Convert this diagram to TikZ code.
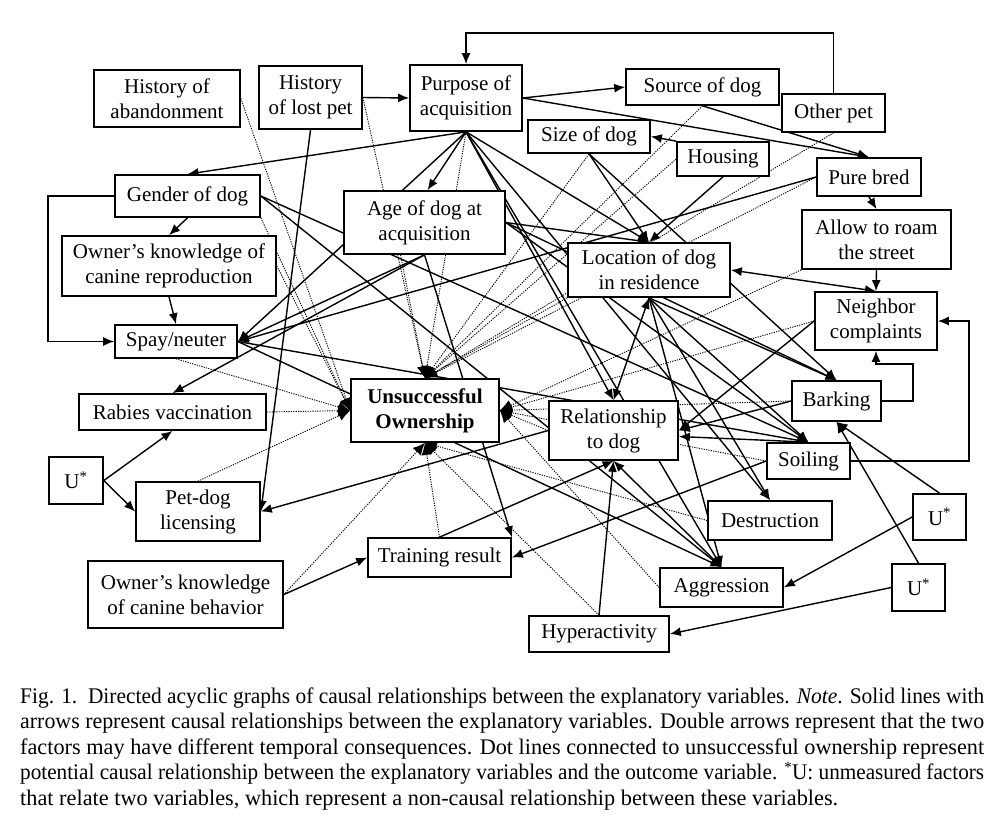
\documentclass[tikz,border=0pt]{standalone}
\usepackage{fontspec}
\setmainfont{Liberation Serif}
\usetikzlibrary{arrows.meta,calc}
\pgfdeclarelayer{back}\pgfdeclarelayer{bg}\pgfsetlayers{back,bg,main}
\newcommand\nodefont{\fontsize{21}{25}\selectfont}
\newcommand\capfont{\fontsize{22.3}{25.6}\selectfont}
\newcommand\capline[1]{\resizebox{964pt}{\height}{#1}}
\begin{document}
\begin{tikzpicture}[x=1pt,y=-1pt,
  box/.style={draw, line width=1.7pt, fill=white, align=center, inner sep=0pt, font=\nodefont},
  arr/.style={-{Latex[length=11pt,width=9pt]}, line width=1.4pt},
  dbl/.style={{Latex[length=11pt,width=9pt]}-{Latex[length=11pt,width=9pt]}, line width=1.4pt},
  dot/.style={-{Latex[length=12pt,width=11pt]}, line width=0.9pt, dash pattern=on 1.2pt off 1.2pt}]
\useasboundingbox (0,0) rectangle (1008,828);
\begin{pgfonlayer}{back}
\fill[white] (0,0) rectangle (1008,828);
\end{pgfonlayer}

\node[box, minimum width=146pt, minimum height=57pt] (abandon) at (167,98.5) {History of\\abandonment};
\node[box, minimum width=103pt, minimum height=63pt] (lostpet) at (310.5,97.5) {History\\of lost pet};
\node[box, minimum width=112pt, minimum height=66pt] (purpose) at (466,98) {Purpose of\\acquisition};
\node[box, minimum width=153pt, minimum height=36pt] (source) at (702.5,87) {Source of dog};
\node[box, minimum width=103pt, minimum height=38pt] (otherpet) at (833.5,113) {Other pet};
\node[box, minimum width=122pt, minimum height=33pt] (size) at (589,136.5) {Size of dog};
\node[box, minimum width=92pt, minimum height=34pt] (housing) at (723,159) {Housing};
\node[box, minimum width=104pt, minimum height=38pt] (purebred) at (869,177) {Pure bred};
\node[box, minimum width=145pt, minimum height=42pt] (gender) at (187.5,196) {Gender of dog};
\node[box, minimum width=161pt, minimum height=63pt] (age) at (424.5,222.5) {Age of dog at\\acquisition};
\node[box, minimum width=214pt, minimum height=60pt] (knowrepro) at (169,266) {Owner’s knowledge of\\canine reproduction};
\node[box, minimum width=149pt, minimum height=59pt] (roam) at (876.5,239.5) {Allow to roam\\the street};
\node[box, minimum width=162pt, minimum height=54pt] (location) at (649,270) {Location of dog\\in residence};
\node[box, minimum width=122pt, minimum height=58pt] (neighbor) at (876,321) {Neighbor\\complaints};
\node[box, minimum width=122pt, minimum height=33pt] (spay) at (176,341.5) {Spay/neuter};
\node[box, minimum width=187pt, minimum height=36pt] (rabies) at (172.5,412) {Rabies vaccination};
\node[box, minimum width=148pt, minimum height=63pt, font=\nodefont\bfseries] (unsucc) at (425,410.5) {Unsuccessful\\Ownership};
\node[box, minimum width=129pt, minimum height=59pt] (relation) at (613.5,430.5) {Relationship\\to dog};
\node[box, minimum width=89pt, minimum height=40pt] (barking) at (836.5,401) {Barking};
\node[box, minimum width=83pt, minimum height=36pt] (soiling) at (808.5,461) {Soiling};
\node[box, minimum width=54pt, minimum height=47pt] (uleft) at (76,480.5) {U\textsuperscript{*}};
\node[box, minimum width=124pt, minimum height=59pt] (licensing) at (198,511.5) {Pet-dog\\licensing};
\node[box, minimum width=124pt, minimum height=39pt] (destruction) at (770,520.5) {Destruction};
\node[box, minimum width=53pt, minimum height=46pt] (uright) at (939.5,517) {U\textsuperscript{*}};
\node[box, minimum width=143pt, minimum height=39pt] (training) at (439.5,557.5) {Training result};
\node[box, minimum width=195pt, minimum height=67pt] (knowbehav) at (185.5,594.5) {Owner’s knowledge\\of canine behavior};
\node[box, minimum width=123pt, minimum height=39pt] (aggression) at (721.5,587.5) {Aggression};
\node[box, minimum width=53pt, minimum height=47pt] (ulow) at (918.5,587.5) {U\textsuperscript{*}};
\node[box, minimum width=140pt, minimum height=36pt] (hyper) at (599,634) {Hyperactivity};

\coordinate (topline) at (0,33);
\coordinate (gl) at (48,0);
\coordinate (bk) at (913,364);
\coordinate (sl) at (969,0);

\node[anchor=base west, align=left, inner sep=0pt, font=\capfont] (cap) at (20,805.5)
{\capline{Fig. 1.\ \ Directed acyclic graphs of causal relationships between the explanatory variables. \textit{Note}. Solid lines with}\\
\capline{arrows represent causal relationships between the explanatory variables. Double arrows represent that the two}\\
\capline{factors may have different temporal consequences. Dot lines connected to unsuccessful ownership represent}\\
\capline{potential causal relationship between the explanatory variables and the outcome variable. \textsuperscript{*}U: unmeasured factors}\\
that relate two variables, which represent a non-causal relationship between these variables.};

\begin{pgfonlayer}{bg}
% dotted links to the outcome
\foreach \s in {lostpet.east, purpose.south, size.south, source.south, housing.west, otherpet.south, purebred.west, location.south west}
  \draw[dot] (\s) -- (unsucc.north);
\draw[dot] ([xshift=-24pt]age.south) -- (unsucc.north);
\foreach \s in {abandon.east, gender.south east, knowrepro.east, spay.south, rabies.east, licensing.north}
  \draw[dot] (\s) -- (unsucc.west);
\foreach \s in {roam.south west, neighbor.west, barking.west, soiling.west, relation.west, aggression.west}
  \draw[dot] (\s) -- (unsucc.east);
\foreach \s in {training.north, knowbehav.east, hyper.north, destruction.west}
  \draw[dot] (\s) -- (unsucc.south);

% solid causal links
\draw[arr] (otherpet.north) -- (otherpet.north |- topline) -| (purpose.north);
\draw[arr] (lostpet.east) -- (purpose.west);
\draw[arr] (purpose.east) -- (source.west);
\draw[arr] (purpose.east) -- (purebred.north);
\draw[arr] (source.south) -- (purebred.north);
\draw[arr] (purpose.south) -- (gender.north);
\draw[arr] (purpose.south) -- ([xshift=3pt]age.north);
\draw[arr] (purpose.south) -- (spay.east);
\draw[arr] (purpose.south) -- (location.north);
\draw[arr] (purpose.south) -- (relation.north);
\draw[arr] (purpose.south) -- (aggression.north);
\draw[arr] (purpose.south) -- (destruction.north);
\draw[arr] (size.south) -- (location.north);
\draw[arr] (size.south) -- (barking.north);
\draw[arr] (housing.north west) -- (size.east);
\draw[arr] (housing.south) -- (location.north);
\draw[arr] (age.east) -- (location.north);
\draw[arr] (age.east) -- (barking.north);
\draw[arr] (age.east) -- (soiling.north);
\draw[arr] (age.south) -- (rabies.north);
\draw[arr] (age.south) -- (spay.east);
\draw[arr] (age.south) -- (training.north east);
\draw[arr] (purebred.west) -- (spay.east);
\draw[arr] (purebred.south) -- (roam.north);
\draw[arr] (roam.south) -- (neighbor.north);
\draw[dbl] (location.east) -- (neighbor.north);
\draw[arr] (barking.east) -| (bk) -| (neighbor.south);
\draw[arr] (soiling.east) -| (sl |- neighbor.east) -- (neighbor.east);
\draw[arr] (neighbor.west) -- (relation.east);
\draw[arr] (barking.west) -- (relation.east);
\draw[dbl] ([yshift=-6pt]relation.east) -- (soiling.north);
\draw[arr] (soiling.west) -- (training.east);
\draw[dbl] (relation.north) -- (location.south);
\draw[arr] (location.south) -- (barking.north);
\draw[arr] (location.south) -- (soiling.north);
\draw[arr] (location.south) -- (destruction.north);
\draw[arr] (location.south) -- (aggression.north);
\draw[dbl] (relation.south) -- (aggression.north);
\draw[arr] (hyper.north) -- (relation.south);
\draw[arr] (training.north) -- (relation.south);
\draw[arr] (relation.west) -- (licensing.east);
\draw[arr] (lostpet.south) -- (licensing.east);
\draw[arr] (uleft.east) -- (rabies.south);
\draw[arr] (uleft.east) -- (licensing.west);
\draw[arr] (knowbehav.east) -- (training.west);
\draw[arr] (uright.north) -- (barking.south);
\draw[arr] (uright.west) -- (aggression.east);
\draw[arr] (ulow.north) -- (barking.south);
\draw[arr] (ulow.west) -- (hyper.east);
\draw[arr] (gender.south) -- (knowrepro.north);
\draw[arr] (knowrepro.south) -- (spay.north);
\draw[arr] (gender.west) -- (gender.west -| gl) |- (spay.west);
\draw[arr] (gender.east) -- (soiling.north);
\draw[arr] (gender.east) -- (aggression.north);
\draw[arr] (spay.east) -- (aggression.north);
\draw[arr] (spay.east) -- (soiling.north);
\end{pgfonlayer}
\end{tikzpicture}
\end{document}
